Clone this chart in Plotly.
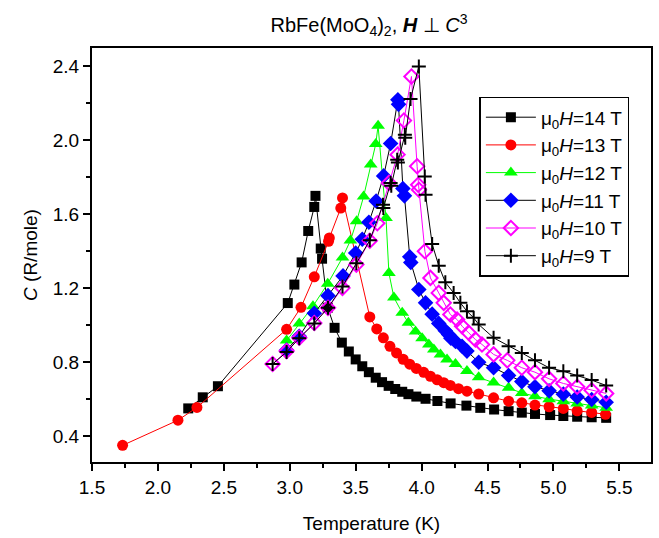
import plotly.graph_objects as go

# ---- data ----
T14 = [2.23, 2.34, 2.455, 2.985, 3.035, 3.09, 3.14, 3.186, 3.195, 3.235, 3.245, 3.288, 3.34, 3.395, 3.448,
       3.50, 3.55, 3.60, 3.652, 3.70, 3.75, 3.80, 3.853, 3.90, 3.96, 4.03, 4.12, 4.22, 4.34, 4.445, 4.55,
       4.66, 4.76, 4.86, 4.975, 5.075, 5.18, 5.29, 5.40]
C14 = [0.55, 0.61, 0.67, 1.12, 1.22, 1.34, 1.51, 1.64, 1.70, 1.415, 1.36, 1.095, 0.986, 0.906, 0.858,
       0.815, 0.778, 0.746, 0.716, 0.692, 0.672, 0.655, 0.64, 0.627, 0.614, 0.602, 0.59, 0.577, 0.565, 0.553, 0.544,
       0.535, 0.527, 0.52, 0.514, 0.509, 0.505, 0.502, 0.499]

T13 = [1.732, 2.152, 2.296, 2.976, 3.085, 3.186, 3.294, 3.30, 3.387, 3.40, 3.607, 3.66, 3.71, 3.76, 3.81,
       3.86, 3.91, 3.96, 4.016, 4.067, 4.118, 4.168, 4.218, 4.28, 4.344, 4.433, 4.546, 4.66, 4.76, 4.86,
       4.967, 5.075, 5.18, 5.29, 5.395]
C13 = [0.35, 0.486, 0.555, 0.978, 1.097, 1.262, 1.454, 1.472, 1.634, 1.689, 1.045, 0.98, 0.932, 0.886, 0.85,
       0.816, 0.789, 0.766, 0.745, 0.724, 0.705, 0.689, 0.674, 0.657, 0.643, 0.628, 0.607, 0.589, 0.58, 0.568,
       0.559, 0.55, 0.537, 0.528, 0.518]

T12 = [2.976, 3.072, 3.176, 3.288, 3.40, 3.46, 3.507, 3.56, 3.614, 3.652, 3.67, 3.73, 3.752, 3.79, 3.853,
       3.90, 3.954, 4.004, 4.055, 4.093, 4.143, 4.193, 4.257, 4.344, 4.433, 4.546, 4.66, 4.76, 4.86, 4.967,
       5.075, 5.18, 5.29, 5.40]
C12 = [0.917, 1.009, 1.103, 1.225, 1.366, 1.458, 1.562, 1.696, 1.869, 1.98, 2.08, 1.58, 1.283, 1.15, 1.067,
       1.013, 0.966, 0.93, 0.896, 0.869, 0.842, 0.815, 0.79, 0.752, 0.718, 0.69, 0.662, 0.634, 0.616, 0.6,
       0.589, 0.577, 0.566, 0.553]

T11 = [2.976, 3.072, 3.186, 3.29, 3.404, 3.50, 3.55, 3.60, 3.655, 3.712, 3.765, 3.82, 3.825, 3.858, 3.87,
       3.91, 3.918, 3.979, 4.03, 4.08, 4.13, 4.18, 4.205, 4.222, 4.257, 4.307, 4.344, 4.433, 4.546, 4.66,
       4.76, 4.86, 4.967, 5.075, 5.18, 5.29, 5.40]
C11 = [0.866, 0.94, 1.065, 1.16, 1.267, 1.391, 1.465, 1.557, 1.672, 1.808, 1.983, 2.22, 2.195, 1.74, 1.70,
       1.37, 1.34, 1.193, 1.121, 1.06, 1.01, 0.97, 0.95, 0.93, 0.912, 0.886, 0.86, 0.80, 0.77, 0.728,
       0.695, 0.667, 0.645, 0.627, 0.612, 0.598, 0.583]

T10 = [2.87, 2.976, 3.072, 3.186, 3.29, 3.40, 3.505, 3.607, 3.664, 3.752, 3.818, 3.866, 3.923, 3.966, 3.974,
       3.98, 4.025, 4.067, 4.13, 4.168, 4.218, 4.269, 4.307, 4.357, 4.408, 4.458, 4.546, 4.65, 4.76, 4.86,
       4.967, 5.075, 5.18, 5.29, 5.40]
C10 = [0.79, 0.86, 0.932, 1.012, 1.094, 1.202, 1.328, 1.457, 1.552, 1.77, 1.923, 2.108, 2.346, 1.86, 1.76,
       1.733, 1.40, 1.256, 1.175, 1.121, 1.058, 1.031, 0.995, 0.959, 0.923, 0.896, 0.842, 0.81, 0.77, 0.746,
       0.71, 0.685, 0.667, 0.648, 0.631]

T9 = [2.87, 2.976, 3.072, 3.186, 3.29, 3.40, 3.505, 3.607, 3.707, 3.71, 3.765, 3.77, 3.815, 3.82, 3.873,
      3.876, 3.916, 3.979, 4.024, 4.03, 4.08, 4.13, 4.18, 4.243, 4.294, 4.344, 4.395, 4.433, 4.546, 4.66,
      4.76, 4.86, 4.967, 5.075, 5.18, 5.29, 5.40]
C9 = [0.79, 0.855, 0.93, 1.01, 1.094, 1.21, 1.335, 1.46, 1.652, 1.634, 1.77, 1.755, 1.896, 1.88, 2.03,
      2.015, 2.224, 2.40, 1.805, 1.706, 1.44, 1.322, 1.232, 1.175, 1.121, 1.076, 1.04, 1.004, 0.932, 0.886,
      0.85, 0.81, 0.77, 0.751, 0.728, 0.703, 0.674]

names = ["μ<sub>0</sub><i>H</i>=14 T", "μ<sub>0</sub><i>H</i>=13 T", "μ<sub>0</sub><i>H</i>=12 T",
         "μ<sub>0</sub><i>H</i>=11 T", "μ<sub>0</sub><i>H</i>=10 T", "μ<sub>0</sub><i>H</i>=9 T"]
xs = [T14, T13, T12, T11, T10, T9]
ys = [C14, C13, C12, C11, C10, C9]
line_colors = ["#000000", "#ff0000", "#00ff00", "#000000", "#ff00ff", "#000000"]
marker_colors = ["#000000", "#ff0000", "#00ff00", "#0000ff", "#ff00ff", "#000000"]
symbols = ["square", "circle", "triangle-up", "diamond", "diamond-open", "cross-thin"]
sizes = [10, 11, 12, 12, 11, 10]

FONT = "Liberation Sans, Arial, Helvetica, sans-serif"
FS = 19

fig = go.Figure()
for x, y, nm, lc, mc, sym, sz in zip(xs, ys, names, line_colors, marker_colors, symbols, sizes):
    mk = dict(symbol=sym, size=sz, color=mc)
    if sym in ("diamond-open", "cross-thin"):
        mk["line"] = dict(color=mc, width=2)
    else:
        mk["line"] = dict(width=0)
    fig.add_trace(go.Scatter(x=x, y=y, name=nm, mode="lines+markers",
                             line=dict(color=lc, width=1), marker=mk))

fig.update_layout(
    width=659, height=538,
    margin=dict(l=92, r=6, t=48, b=76),
    paper_bgcolor="white", plot_bgcolor="white",
    font=dict(family=FONT, size=FS, color="black"),
    title=dict(text="RbFe(MoO<sub>4</sub>)<sub>2</sub>, <b><i>H</i></b> ⊥ <i>C</i><sup>3</sup>",
               x=0.56, xanchor="center", y=0.953, yanchor="middle",
               font=dict(family=FONT, size=20, color="black")),
    showlegend=True,
    legend=dict(x=0.693, y=0.882, xanchor="left", yanchor="top",
                bgcolor="white", bordercolor="black", borderwidth=1.5,
                font=dict(family=FONT, size=FS, color="black"),
                tracegroupgap=0, itemwidth=50),
)
fig.update_xaxes(range=[1.5, 5.74], tick0=1.5, dtick=0.5, tickformat=".1f",
                 ticks="outside", ticklen=7, tickwidth=2, tickcolor="black",
                 minor=dict(dtick=0.25, ticks="outside", ticklen=4, tickwidth=2, tickcolor="black"),
                 showline=True, linecolor="black", linewidth=2, mirror=True,
                 showgrid=False, zeroline=False,
                 title=dict(text="Temperature (K)", standoff=20, font=dict(size=FS)))
fig.update_yaxes(range=[0.26, 2.5], tick0=0.4, dtick=0.4, tickformat=".1f",
                 ticks="outside", ticklen=7, tickwidth=2, tickcolor="black",
                 minor=dict(dtick=0.2, ticks="outside", ticklen=4, tickwidth=2, tickcolor="black"),
                 showline=True, linecolor="black", linewidth=2, mirror=True,
                 showgrid=False, zeroline=False,
                 title=dict(text="<i>C</i> (R/mole)", standoff=10, font=dict(size=FS)))

fig.write_html("out.html")
